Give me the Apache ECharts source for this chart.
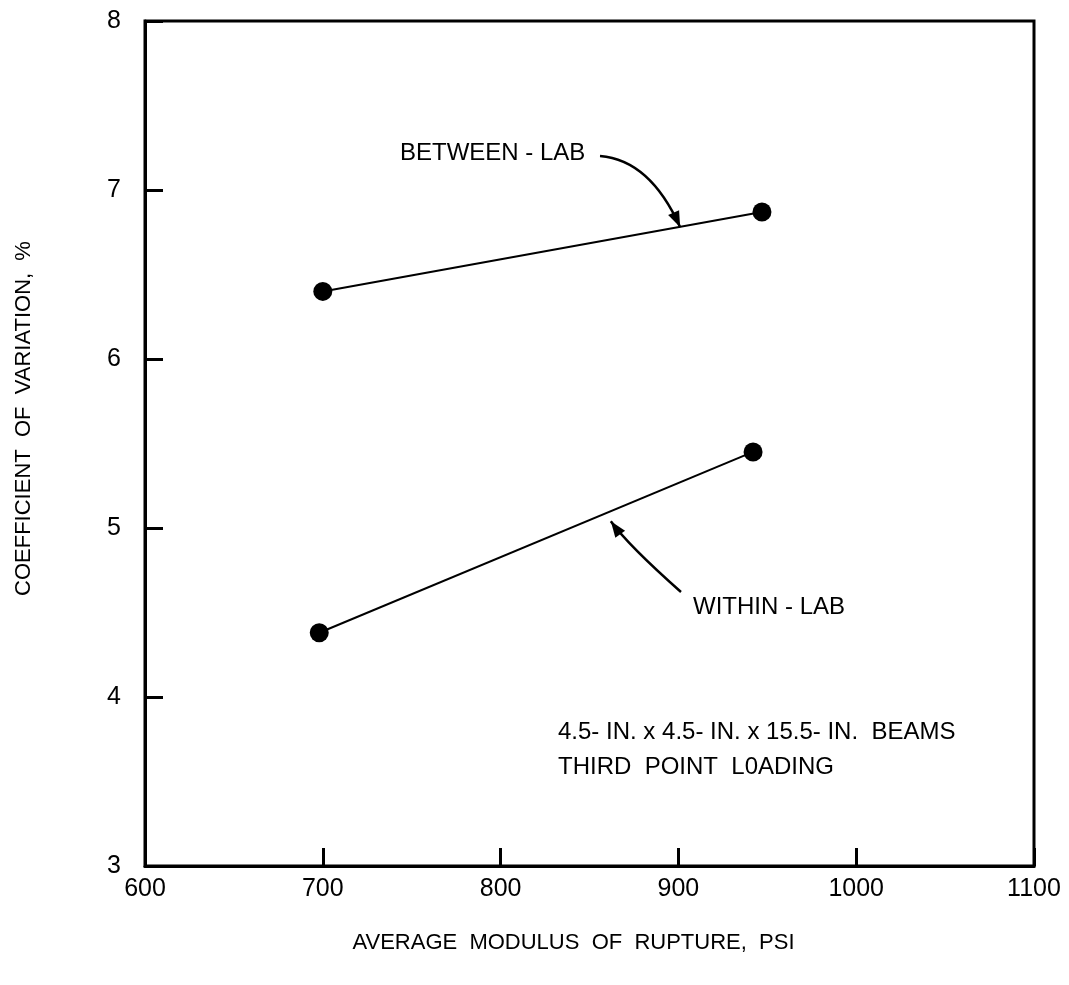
<!DOCTYPE html>
<html>
<head>
<meta charset="utf-8">
<script src="https://cdn.jsdelivr.net/npm/echarts@6/dist/echarts.min.js"></script>
<style>
  html, body { margin: 0; padding: 0; background: #fff; }
  #main { width: 1069px; height: 985px; }
</style>
</head>
<body>
<div id="main"></div>
<script>
// data
var xTicks = [600, 700, 800, 900, 1000, 1100];
var yTicks = [3, 4, 5, 6, 7, 8];
var betweenLab = [[700, 6.40], [947, 6.87]];
var withinLab = [[698, 4.38], [942, 5.45]];

var font = '"Liberation Sans", Arial, sans-serif';

var myChart = echarts.init(document.getElementById('main'));

var option = {
  backgroundColor: '#fff',
  animation: false,
  grid: {
    left: 145, right: 35, top: 21, bottom: 119,
    show: true, borderColor: '#000', borderWidth: 3
  },
  xAxis: {
    type: 'value',
    min: xTicks[0], max: xTicks[xTicks.length - 1], interval: 100,
    name: 'AVERAGE  MODULUS  OF  RUPTURE,  PSI',
    nameLocation: 'middle', nameGap: 66,
    nameTextStyle: { color: '#000', fontSize: 22, fontFamily: font, padding: [0, 32, 0, 0] },
    axisLine: { show: true, lineStyle: { color: '#000', width: 3 } },
    axisTick: { show: true, inside: true, length: 18, lineStyle: { color: '#000', width: 3 } },
    axisLabel: { color: '#000', fontSize: 25, fontFamily: font, margin: 11,
                 formatter: function (v) { return String(v); } },
    splitLine: { show: false }
  },
  yAxis: {
    type: 'value',
    min: yTicks[0], max: yTicks[yTicks.length - 1], interval: 1,
    name: 'COEFFICIENT  OF  VARIATION,  %',
    nameLocation: 'middle', nameGap: 110,
    nameTextStyle: { color: '#000', fontSize: 22, fontFamily: font, padding: [0, 0, 0, 50] },
    axisLine: { show: true, lineStyle: { color: '#000', width: 3 } },
    axisTick: { show: true, inside: true, length: 18, lineStyle: { color: '#000', width: 3 } },
    axisLabel: { color: '#000', fontSize: 25, fontFamily: font, margin: 24 },
    splitLine: { show: false }
  },
  series: [
    {
      name: 'BETWEEN - LAB', type: 'line', data: betweenLab,
      symbol: 'circle', symbolSize: 19,
      lineStyle: { color: '#000', width: 2 },
      itemStyle: { color: '#000' }
    },
    {
      name: 'WITHIN - LAB', type: 'line', data: withinLab,
      symbol: 'circle', symbolSize: 19,
      lineStyle: { color: '#000', width: 2 },
      itemStyle: { color: '#000' }
    }
  ]
};

myChart.setOption(option);

// arrow tips sit on / near the lines, so place them through the scales
var tipB = myChart.convertToPixel({ gridIndex: 0 }, [901, 6.78]);
var tipW = myChart.convertToPixel({ gridIndex: 0 }, [862, 5.04]);

function arrowHead(tip, from) {
  var dx = tip[0] - from[0], dy = tip[1] - from[1];
  var len = Math.sqrt(dx * dx + dy * dy);
  var ux = dx / len, uy = dy / len;
  var L = 16, W = 6;
  var bx = tip[0] - ux * L, by = tip[1] - uy * L;
  return [[tip[0], tip[1]], [bx - uy * W, by + ux * W], [bx + uy * W, by - ux * W]];
}

var startB = [600, 156], ctrlB = [650, 160];
var startW = [681, 592], ctrlW = [628, 545];

myChart.setOption({
  graphic: [
    { type: 'text', left: 400, top: 141,
      style: { text: 'BETWEEN - LAB', fill: '#000', fontSize: 24, fontFamily: font } },
    { type: 'text', left: 693, top: 595,
      style: { text: 'WITHIN - LAB', fill: '#000', fontSize: 24, fontFamily: font } },
    { type: 'text', left: 558, top: 715,
      style: { text: '4.5- IN. x 4.5- IN. x 15.5- IN.  BEAMS\nTHIRD  POINT  L0ADING',
               fill: '#000', fontSize: 24, fontFamily: font, lineHeight: 35 } },
    { type: 'bezierCurve',
      shape: { x1: startB[0], y1: startB[1], x2: tipB[0], y2: tipB[1], cpx1: ctrlB[0], cpy1: ctrlB[1] },
      style: { stroke: '#000', lineWidth: 2.5, fill: null } },
    { type: 'polygon', shape: { points: arrowHead(tipB, ctrlB) }, style: { fill: '#000' } },
    { type: 'bezierCurve',
      shape: { x1: startW[0], y1: startW[1], x2: tipW[0], y2: tipW[1], cpx1: ctrlW[0], cpy1: ctrlW[1] },
      style: { stroke: '#000', lineWidth: 2.5, fill: null } },
    { type: 'polygon', shape: { points: arrowHead(tipW, ctrlW) }, style: { fill: '#000' } }
  ]
});
</script>
</body>
</html>
